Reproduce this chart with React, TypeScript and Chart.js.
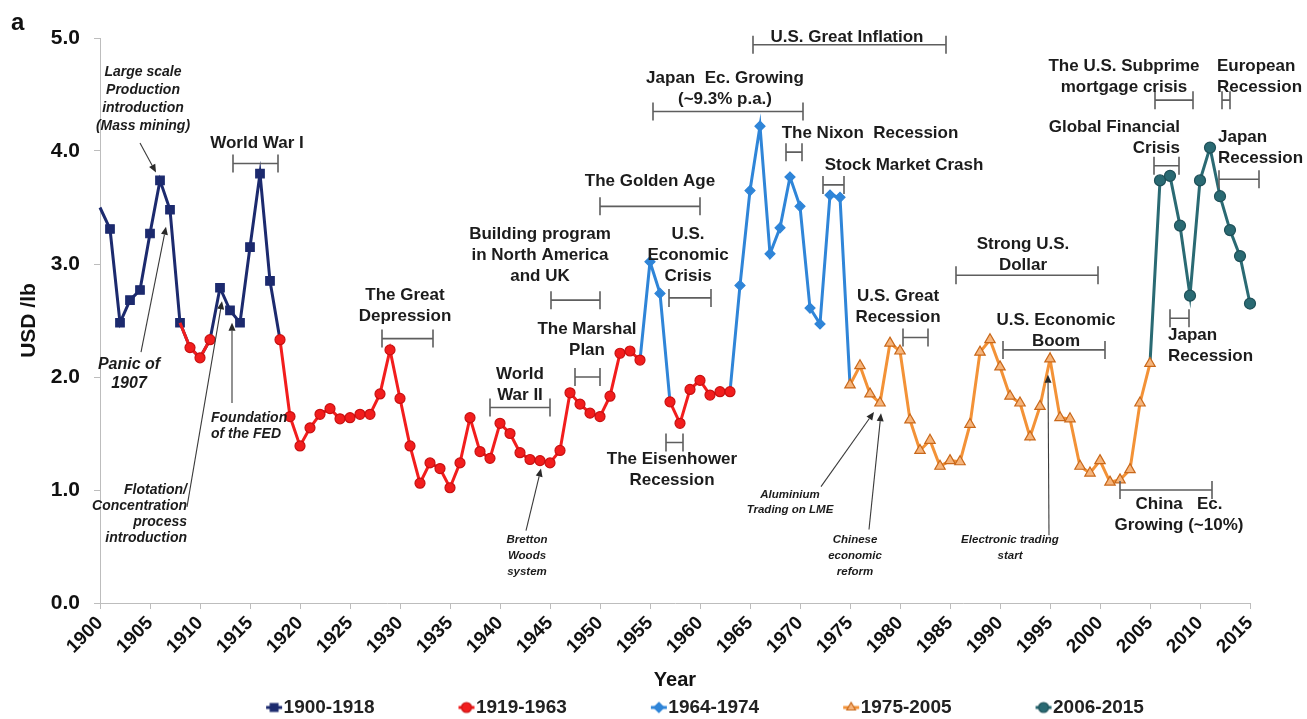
import React, { useEffect, useRef } from 'react';
import { Chart, registerables } from 'chart.js';

Chart.register(...registerables);

// ---------------- data (USD / lb, one value per year) ----------------
const seriesLabels = ['1900-1918', '1919-1963', '1964-1974', '1975-2005', '2006-2015'];
const periodStartYears = [1900, 1919, 1964, 1975, 2006];

const price1900to1918 = [3.50, 3.31, 2.48, 2.68, 2.77, 3.27, 3.74, 3.48, 2.48, 2.26, 2.17, 2.33, 2.79, 2.59, 2.48, 3.15, 3.80, 2.85, 2.33];
const price1919to1963 = [
  1.65, 1.39, 1.55, 1.67, 1.72, 1.63, 1.64, 1.67, 1.67, 1.85,
  2.24, 1.81, 1.39, 1.06, 1.24, 1.19, 1.02, 1.24, 1.64, 1.34,
  1.28, 1.59, 1.50, 1.33, 1.27, 1.26, 1.24, 1.35, 1.86, 1.76,
  1.68, 1.65, 1.83, 2.21, 2.23, 2.15, 3.02, 2.74, 1.78, 1.59,
  1.89, 1.97, 1.84, 1.87, 1.87,
];
const price1964to1974 = [2.81, 3.65, 4.22, 3.09, 3.32, 3.77, 3.51, 2.61, 2.47, 3.61, 3.59];
const price1975to2005 = [
  1.93, 2.10, 1.85, 1.77, 2.30, 2.23, 1.62, 1.35, 1.44, 1.21,
  1.26, 1.25, 1.58, 2.22, 2.33, 2.09, 1.83, 1.77, 1.47, 1.74,
  2.16, 1.64, 1.63, 1.21, 1.15, 1.26, 1.07, 1.09, 1.18, 1.77,
  2.12,
];
const price2006to2015 = [3.74, 3.78, 3.34, 2.72, 3.74, 4.03, 3.60, 3.30, 3.07, 2.65];

const xTickMin = 1900;
const xTickMax = 2015;
const xTickStep = 5;
const yTickMin = 0;
const yTickMax = 5;
const yTickStep = 1;

// year ranges covered by each coloured line (lines join the neighbouring periods)
const navyRanges = [[1900, 1918]];
const redRanges = [[1908, 1911], [1918, 1954], [1957, 1963]];
const blueRanges = [[1954, 1957], [1963, 1975]];
const orangeRanges = [[1975, 2005]];
const tealRanges = [[2005, 2015]];

const navyNoMarker = [1900, 1909, 1910, 1911, 1918];
const redNoMarker = [1908];
const blueNoMarker = [1954, 1957, 1963, 1975];
const orangeNoMarker: number[] = [];
const tealNoMarker = [2005];

// ---------------- annotations (data coordinates: year, USD/lb) ----------------
const bracketSpans = [
  { from: 1913.3, to: 1917.8, level: 3.89 },
  { from: 1928.2, to: 1933.3, level: 2.34 },
  { from: 1939.0, to: 1945.0, level: 1.73 },
  { from: 1947.5, to: 1950.0, level: 2.00 },
  { from: 1945.1, to: 1950.0, level: 2.68 },
  { from: 1956.9, to: 1961.1, level: 2.70 },
  { from: 1956.6, to: 1958.3, level: 1.42 },
  { from: 1950.0, to: 1960.0, level: 3.51 },
  { from: 1955.3, to: 1970.3, level: 4.35 },
  { from: 1965.3, to: 1984.6, level: 4.94 },
  { from: 1968.6, to: 1970.2, level: 3.99 },
  { from: 1972.3, to: 1974.4, level: 3.70 },
  { from: 1980.3, to: 1982.8, level: 2.35 },
  { from: 1985.6, to: 1999.8, level: 2.90 },
  { from: 1990.3, to: 2000.5, level: 2.24 },
  { from: 2005.5, to: 2009.3, level: 4.45 },
  { from: 2012.2, to: 2013.0, level: 4.45 },
  { from: 2005.4, to: 2007.9, level: 3.87 },
  { from: 2011.9, to: 2015.9, level: 3.75 },
  { from: 2007.0, to: 2008.9, level: 2.52 },
  { from: 2002.0, to: 2011.2, level: 1.00 },
];

const eventLabels = [
  { lines: ['World War I'], year: 1915.7, value: 4.07 },
  { lines: ['The Great', 'Depression'], year: 1930.5, value: 2.72 },
  { lines: ['World', 'War II'], year: 1942.0, value: 2.02 },
  { lines: ['The Marshal', 'Plan'], year: 1948.7, value: 2.42 },
  { lines: ['Building program', 'in North America', 'and UK'], year: 1944.0, value: 3.26 },
  { lines: ['U.S.', 'Economic', 'Crisis'], year: 1958.8, value: 3.26 },
  { lines: ['The Eisenhower', 'Recession'], year: 1957.2, value: 1.27 },
  { lines: ['The Golden Age'], year: 1955.0, value: 3.73 },
  { lines: ['Japan  Ec. Growing', '(~9.3% p.a.)'], year: 1962.5, value: 4.64 },
  { lines: ['U.S. Great Inflation'], year: 1974.7, value: 5.01 },
  { lines: ['The Nixon  Recession'], year: 1977.0, value: 4.16 },
  { lines: ['Stock Market Crash'], year: 1980.4, value: 3.87 },
  { lines: ['U.S. Great', 'Recession'], year: 1979.8, value: 2.71 },
  { lines: ['Strong U.S.', 'Dollar'], year: 1992.3, value: 3.17 },
  { lines: ['U.S. Economic', 'Boom'], year: 1995.6, value: 2.50 },
  { lines: ['The U.S. Subprime', 'mortgage crisis'], year: 2002.4, value: 4.75 },
  { lines: ['European', 'Recession'], year: 2011.7, value: 4.75, align: 'left' },
  { lines: ['Global Financial', 'Crisis'], year: 2008.0, value: 4.21, align: 'right' },
  { lines: ['Japan', 'Recession'], year: 2011.8, value: 4.12, align: 'left' },
  { lines: ['Japan', 'Recession'], year: 2006.8, value: 2.37, align: 'left' },
  { lines: ['China   Ec.', 'Growing (~10%)'], year: 2007.9, value: 0.87 },
];

const noteLabels = [
  { lines: ['Large scale', 'Production', 'introduction', '(Mass mining)'], year: 1904.3, value: 4.70, size: 14, gap: 18 },
  { lines: ['Panic of', '1907'], year: 1902.9, value: 2.11, size: 16, gap: 19 },
  { lines: ['Foundation', 'of the FED'], year: 1911.1, value: 1.64, size: 14, gap: 16, align: 'left' },
  { lines: ['Flotation/', 'Concentration', 'process', 'introduction'], year: 1908.7, value: 1.00, size: 14, gap: 16, align: 'right' },
  { lines: ['Bretton', 'Woods', 'system'], year: 1942.7, value: 0.56, size: 11.5, gap: 16 },
  { lines: ['Aluminium', 'Trading on LME'], year: 1969.0, value: 0.96, size: 11.5, gap: 15 },
  { lines: ['Chinese', 'economic', 'reform'], year: 1975.5, value: 0.56, size: 11.5, gap: 16 },
  { lines: ['Electronic trading', 'start'], year: 1991.0, value: 0.56, size: 11.5, gap: 16 },
];

const noteArrows = [
  { fromYear: 1904.0, fromValue: 4.07, toYear: 1905.6, toValue: 3.81 },
  { fromYear: 1904.1, fromValue: 2.22, toYear: 1906.6, toValue: 3.33 },
  { fromYear: 1913.2, fromValue: 1.77, toYear: 1913.2, toValue: 2.48 },
  { fromYear: 1908.7, fromValue: 0.85, toYear: 1912.2, toValue: 2.67 },
  { fromYear: 1942.6, fromValue: 0.64, toYear: 1944.1, toValue: 1.19 },
  { fromYear: 1972.1, fromValue: 1.03, toYear: 1977.4, toValue: 1.69 },
  { fromYear: 1976.9, fromValue: 0.65, toYear: 1978.1, toValue: 1.68 },
  { fromYear: 1994.9, fromValue: 0.60, toYear: 1994.8, toValue: 2.02 },
];

// ---------------- styles ----------------
const FONT = "'Liberation Sans', Arial, Helvetica, sans-serif";
const NAVY = '#1C2A6E';
const RED = '#F21D1D';
const BLUE = '#2F85D8';
const ORANGE = '#F39237';
const TEAL = '#2A6A73';

const priceByYear = new Map<number, number>();
[price1900to1918, price1919to1963, price1964to1974, price1975to2005, price2006to2015].forEach((vals, k) => {
  vals.forEach((v, i) => priceByYear.set(periodStartYears[k] + i, v));
});

function buildSeries(ranges: number[][]) {
  const pts: { x: number; y: number | null }[] = [];
  ranges.forEach(([a, b], ri) => {
    if (ri > 0) pts.push({ x: a - 0.5, y: null });
    for (let yr = a; yr <= b; yr++) pts.push({ x: yr, y: priceByYear.get(yr) as number });
  });
  return pts;
}

function drawMarker(g: CanvasRenderingContext2D, kind: string, x: number, y: number, r: number, fill: string, border: string) {
  g.fillStyle = fill;
  g.strokeStyle = border;
  g.lineWidth = 1.2;
  g.beginPath();
  if (kind === 'rect') {
    const s = Math.SQRT1_2 * r;
    g.rect(x - s, y - s, 2 * s, 2 * s);
  } else if (kind === 'circle') {
    g.arc(x, y, r, 0, Math.PI * 2);
  } else if (kind === 'rectRot') {
    const s = r;
    g.moveTo(x, y - s); g.lineTo(x + s, y); g.lineTo(x, y + s); g.lineTo(x - s, y); g.closePath();
  } else if (kind === 'triangle') {
    g.moveTo(x, y - r);
    g.lineTo(x + r * 0.866, y + r * 0.5);
    g.lineTo(x - r * 0.866, y + r * 0.5);
    g.closePath();
  }
  g.fill();
  g.stroke();
}

const annotationPlugin = {
  id: 'eventAnnotations',
  afterDatasetsDraw(chart: any) {
    const { ctx } = chart;
    const xs = chart.scales.x;
    const ys = chart.scales.y;
    const px = (v: number) => xs.getPixelForValue(v);
    const py = (v: number) => ys.getPixelForValue(v);
    ctx.save();
    // brackets
    ctx.strokeStyle = '#5e5e5e';
    ctx.lineWidth = 1.6;
    bracketSpans.forEach((b) => {
      const x1 = px(b.from);
      const x2 = px(b.to);
      const yy = py(b.level);
      ctx.beginPath();
      ctx.moveTo(x1, yy); ctx.lineTo(x2, yy);
      ctx.moveTo(x1, yy - 9); ctx.lineTo(x1, yy + 9);
      ctx.moveTo(x2, yy - 9); ctx.lineTo(x2, yy + 9);
      ctx.stroke();
    });
    // arrows
    ctx.strokeStyle = '#3a3a3a';
    ctx.fillStyle = '#2a2a2a';
    ctx.lineWidth = 1.1;
    noteArrows.forEach((a) => {
      const x1 = px(a.fromYear), y1 = py(a.fromValue);
      const x2 = px(a.toYear), y2 = py(a.toValue);
      const ang = Math.atan2(y2 - y1, x2 - x1);
      const len = 8, half = 3.5;
      const bx = x2 - len * Math.cos(ang), by = y2 - len * Math.sin(ang);
      ctx.beginPath();
      ctx.moveTo(x1, y1); ctx.lineTo(bx, by);
      ctx.stroke();
      ctx.beginPath();
      ctx.moveTo(x2, y2);
      ctx.lineTo(bx + half * Math.sin(ang), by - half * Math.cos(ang));
      ctx.lineTo(bx - half * Math.sin(ang), by + half * Math.cos(ang));
      ctx.closePath();
      ctx.fill();
    });
    // bold event labels
    ctx.fillStyle = '#1c1c1c';
    ctx.textBaseline = 'middle';
    ctx.font = `bold 17px ${FONT}`;
    eventLabels.forEach((l: any) => {
      ctx.textAlign = l.align || 'center';
      l.lines.forEach((t: string, i: number) => ctx.fillText(t, px(l.year), py(l.value) + i * 21));
    });
    // italic notes
    noteLabels.forEach((l: any) => {
      ctx.font = `italic bold ${l.size}px ${FONT}`;
      ctx.textAlign = l.align || 'center';
      l.lines.forEach((t: string, i: number) => ctx.fillText(t, px(l.year), py(l.value) + i * l.gap));
    });
    // panel letter
    ctx.font = `bold 24px ${FONT}`;
    ctx.textAlign = 'left';
    ctx.fillStyle = '#111';
    ctx.fillText('a', 11, 23);
    ctx.restore();
  },
};

const legendShiftPlugin = {
  id: 'legendShift',
  afterLayout(chart: any) {
    const l = chart.legend;
    if (!l) return;
    l.top += 8; l.bottom += 8;
    l.left -= 12; l.right -= 12;
  },
};

export default function App() {
  const ref = useRef<HTMLCanvasElement>(null);
  useEffect(() => {
    document.body.style.margin = '0';
    const canvas = ref.current as HTMLCanvasElement;

    const seriesStyle = [
      { color: NAVY, kind: 'rect', r: 6, fill: NAVY, border: NAVY },
      { color: RED, kind: 'circle', r: 5, fill: RED, border: '#C81010' },
      { color: BLUE, kind: 'rectRot', r: 5, fill: BLUE, border: BLUE },
      { color: ORANGE, kind: 'triangle', r: 6, fill: '#F6B57C', border: '#C9681A' },
      { color: TEAL, kind: 'circle', r: 5.5, fill: TEAL, border: '#1E5058' },
    ];

    const icons = seriesStyle.map((s) => {
      const c = document.createElement('canvas');
      c.width = 120; c.height = 20;
      const g = c.getContext('2d') as CanvasRenderingContext2D;
      const mx = 106, my = 10;
      g.strokeStyle = s.color; g.lineWidth = 3;
      g.beginPath(); g.moveTo(mx - 8, my); g.lineTo(mx + 8, my); g.stroke();
      const markerR = s.kind === 'rect' ? 5.5 : s.kind === 'rectRot' ? 5 : 5;
      drawMarker(g, s.kind, mx, my, markerR, s.fill, s.border);
      return c;
    });

    const rangesList = [navyRanges, redRanges, blueRanges, orangeRanges, tealRanges];
    const hiddenList = [navyNoMarker, redNoMarker, blueNoMarker, orangeNoMarker, tealNoMarker];
    const drawOrder = [5, 1, 3, 2, 4];

    const datasets = seriesStyle.map((s, i) => ({
      label: seriesLabels[i],
      data: buildSeries(rangesList[i]),
      borderColor: s.color,
      backgroundColor: s.color,
      borderWidth: 3,
      pointStyle: s.kind,
      pointRadius: (ctx: any) => (ctx.raw && hiddenList[i].includes(ctx.raw.x) ? 0 : s.r),
      pointBackgroundColor: s.fill,
      pointBorderColor: s.border,
      pointBorderWidth: 1.2,
      pointHoverRadius: 0,
      tension: 0,
      spanGaps: false,
      clip: false,
      order: drawOrder[i],
    }));

    const chart = new Chart(canvas, {
      type: 'line',
      data: { datasets } as any,
      options: {
        animation: false,
        responsive: true,
        maintainAspectRatio: false,
        devicePixelRatio: 1,
        events: [],
        layout: { padding: { top: 38, right: 57, bottom: 0, left: 0 } },
        scales: {
          x: {
            type: 'linear',
            min: xTickMin,
            max: xTickMax,
            afterFit: (scale: any) => { scale.height = 87; },
            ticks: {
              stepSize: xTickStep,
              autoSkip: false,
              maxRotation: 45,
              minRotation: 45,
              padding: 3,
              color: '#111',
              font: { family: FONT, size: 19, weight: 'bold' },
              callback: (v: any) => String(v),
            },
            grid: { drawOnChartArea: false, drawTicks: true, tickLength: 6, color: '#bdbdbd' },
            border: { display: true, color: '#bdbdbd', width: 1 },
            title: {
              display: true,
              text: 'Year',
              color: '#111',
              font: { family: FONT, size: 20, weight: 'bold', lineHeight: 1 },
              padding: { top: 0, bottom: 0 },
            },
          },
          y: {
            type: 'linear',
            min: yTickMin,
            max: yTickMax,
            afterFit: (scale: any) => { scale.width = 100; },
            ticks: {
              stepSize: yTickStep,
              padding: 14,
              color: '#111',
              font: { family: FONT, size: 21, weight: 'bold' },
              callback: (v: any) => Number(v).toFixed(1),
            },
            grid: { drawOnChartArea: false, drawTicks: true, tickLength: 6, color: '#bdbdbd' },
            border: { display: true, color: '#bdbdbd', width: 1 },
            title: {
              display: true,
              text: 'USD /lb',
              color: '#111',
              font: { family: FONT, size: 21, weight: 'bold' },
              padding: { top: 17, bottom: 0 },
            },
          },
        },
        plugins: {
          tooltip: { enabled: false },
          title: { display: false },
          legend: {
            display: true,
            position: 'bottom',
            fullSize: false,
            labels: {
              usePointStyle: true,
              pointStyleWidth: 92,
              padding: 0,
              color: '#222',
              font: { family: FONT, size: 19, weight: 'bold' },
              generateLabels: () =>
                seriesLabels.map((t, i) => ({
                  text: t,
                  pointStyle: icons[i],
                  fillStyle: seriesStyle[i].color,
                  strokeStyle: seriesStyle[i].color,
                  lineWidth: 0,
                  hidden: false,
                  datasetIndex: i,
                  fontColor: '#222',
                })),
            },
          },
        },
      } as any,
      plugins: [annotationPlugin, legendShiftPlugin],
    });
    return () => chart.destroy();
  }, []);

  return (
    <div style={{ position: 'fixed', left: 0, top: 0, width: '1307px', height: '719px', background: '#fff' }}>
      <canvas ref={ref} />
    </div>
  );
}
